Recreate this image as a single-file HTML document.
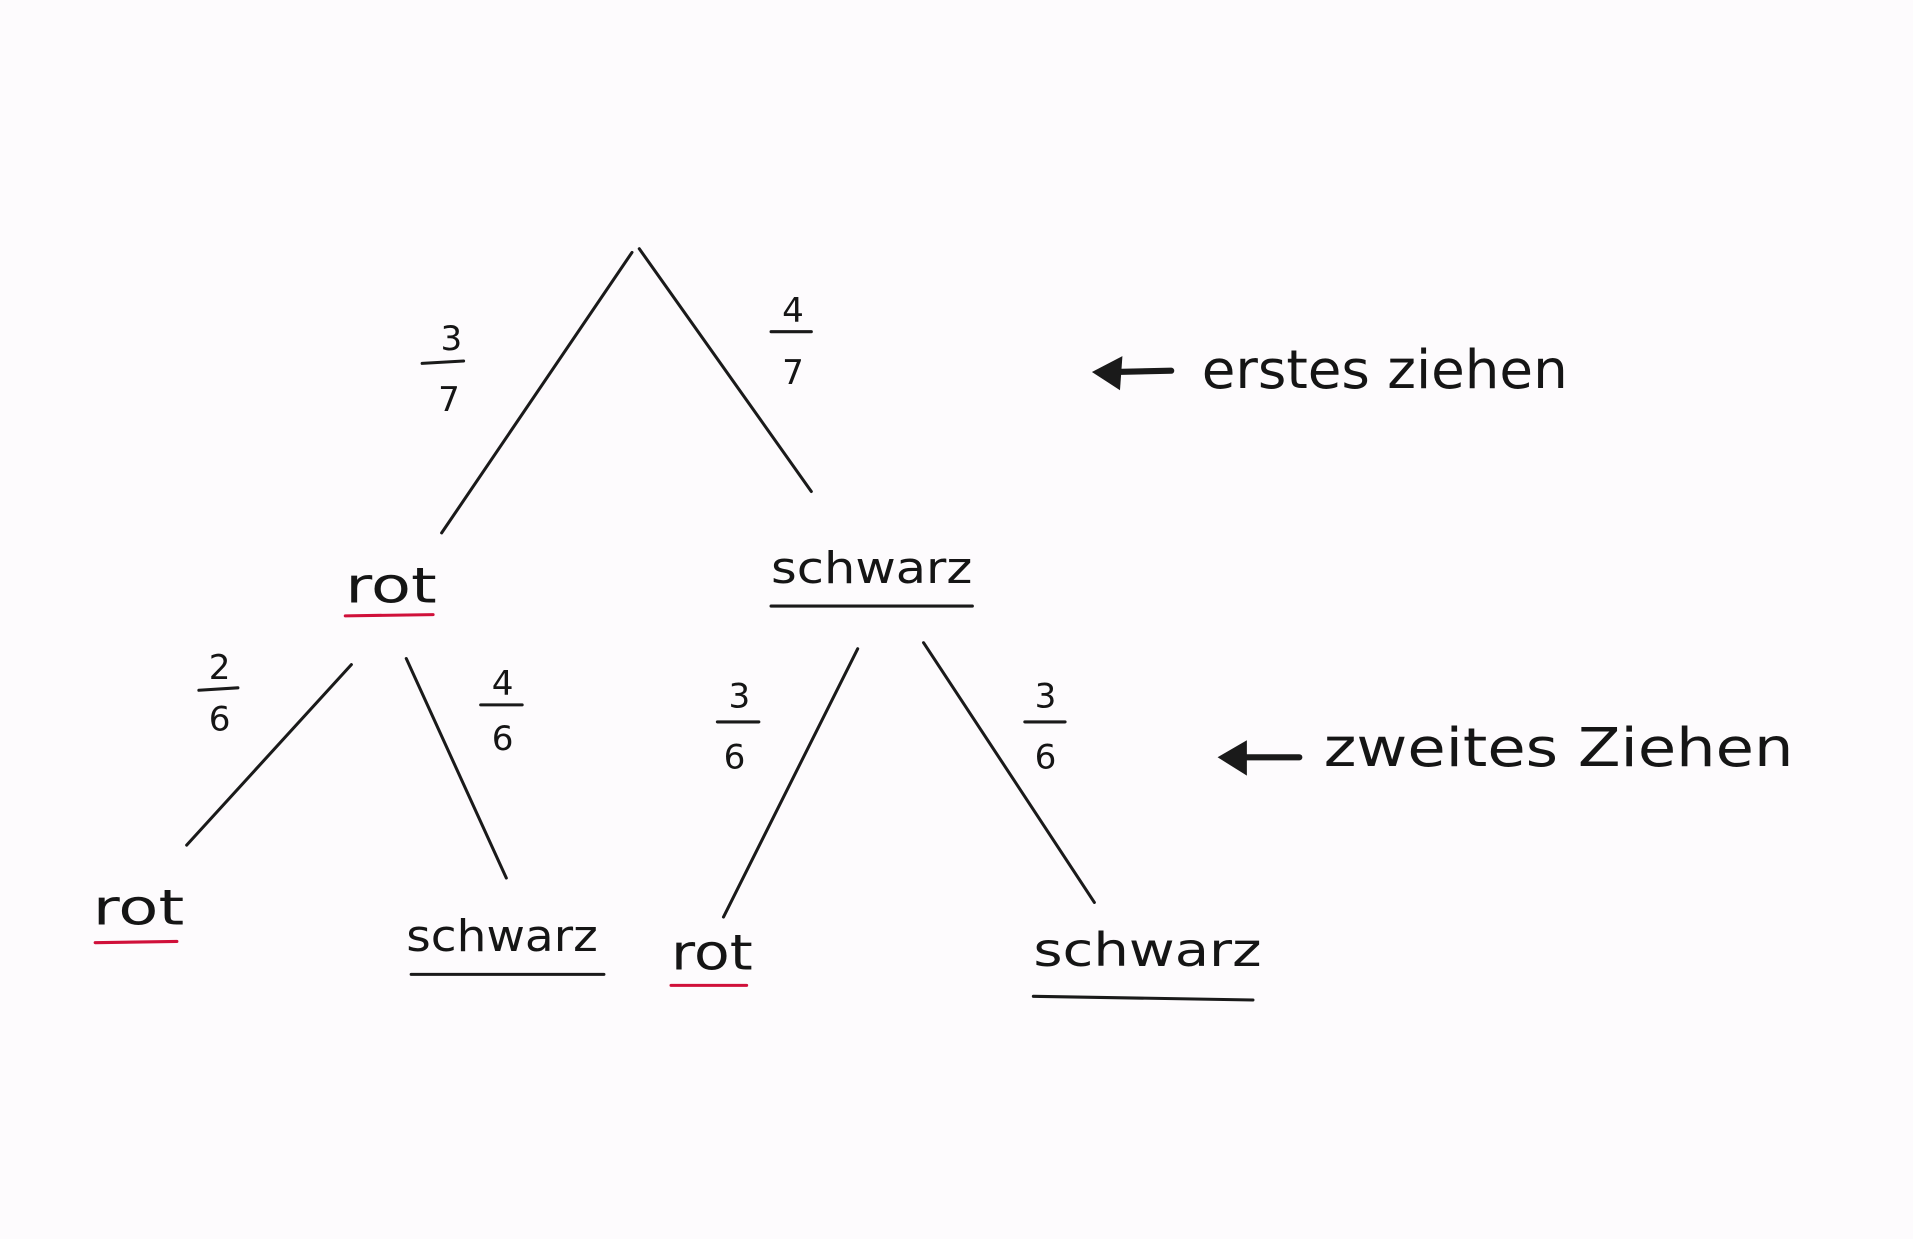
<!DOCTYPE html>
<html><head><meta charset="utf-8"><style>
html,body{margin:0;padding:0;background:#fdfbfd;}
svg{display:block}
text{font-family:"DejaVu Sans","Liberation Sans",sans-serif;fill:#151515;}
</style></head><body>
<svg width="1913" height="1239" viewBox="0 0 1568 1016" preserveAspectRatio="none" xmlns="http://www.w3.org/2000/svg">
<rect width="1568" height="1016" fill="#fdfbfd"/>
<g stroke="#1a1a1a" stroke-width="2.5" stroke-linecap="round" fill="none">
<line x1="518" y1="207" x2="362" y2="437"/>
<line x1="524" y1="204" x2="665" y2="403"/>
<line x1="288" y1="545" x2="153" y2="693"/>
<line x1="333" y1="540" x2="415" y2="720"/>
<line x1="703" y1="532" x2="593" y2="752"/>
<line x1="757" y1="527" x2="897" y2="740"/>
<line x1="346" y1="298" x2="380" y2="296"/>
<line x1="632" y1="272" x2="665" y2="272"/>
<line x1="163" y1="566" x2="195" y2="564"/>
<line x1="394" y1="578" x2="428" y2="578"/>
<line x1="588" y1="592" x2="622" y2="592"/>
<line x1="840" y1="592" x2="873" y2="592"/>
<line x1="632" y1="497" x2="797" y2="497"/>
<line x1="337" y1="799" x2="495" y2="799"/>
<line x1="847" y1="817" x2="1027" y2="820"/>
<line x1="915" y1="305" x2="960" y2="304" stroke-width="5"/>
<line x1="1015" y1="621" x2="1065" y2="621" stroke-width="5"/>
</g>
<g stroke="#d0103a" stroke-width="2.5" stroke-linecap="round">
<line x1="283" y1="505" x2="355" y2="504"/>
<line x1="78" y1="773" x2="145" y2="772"/>
<line x1="550" y1="808" x2="612" y2="808"/>
</g>
<polygon points="895,305 920,292 918,320" fill="#1a1a1a"/>
<polygon points="998,621 1022,607 1022,636" fill="#1a1a1a"/>
<g font-size="28" text-anchor="middle">
<text x="370" y="287">3</text><text x="368" y="337">7</text>
<text x="650" y="264">4</text><text x="650" y="315">7</text>
<text x="180" y="557">2</text><text x="180" y="599">6</text>
<text x="412" y="570">4</text><text x="412" y="615">6</text>
<text x="606" y="580">3</text><text x="602" y="630">6</text>
<text x="857" y="580">3</text><text x="857" y="630">6</text>
</g>
<g font-size="40">
<text x="283" y="494" textLength="75" lengthAdjust="spacingAndGlyphs">rot</text>
<text x="632" y="478" font-size="36" textLength="165" lengthAdjust="spacingAndGlyphs">schwarz</text>
<text x="76" y="758" textLength="75" lengthAdjust="spacingAndGlyphs">rot</text>
<text x="333" y="780" font-size="36" textLength="157" lengthAdjust="spacingAndGlyphs">schwarz</text>
<text x="550" y="795" textLength="67" lengthAdjust="spacingAndGlyphs">rot</text>
<text x="847" y="792" font-size="38" textLength="187" lengthAdjust="spacingAndGlyphs">schwarz</text>
</g>
<g font-size="44">
<text x="985" y="318" textLength="300" lengthAdjust="spacingAndGlyphs">erstes ziehen</text>
<text x="1085" y="628" textLength="385" lengthAdjust="spacingAndGlyphs">zweites Ziehen</text>
</g>
</svg>
</body></html>
